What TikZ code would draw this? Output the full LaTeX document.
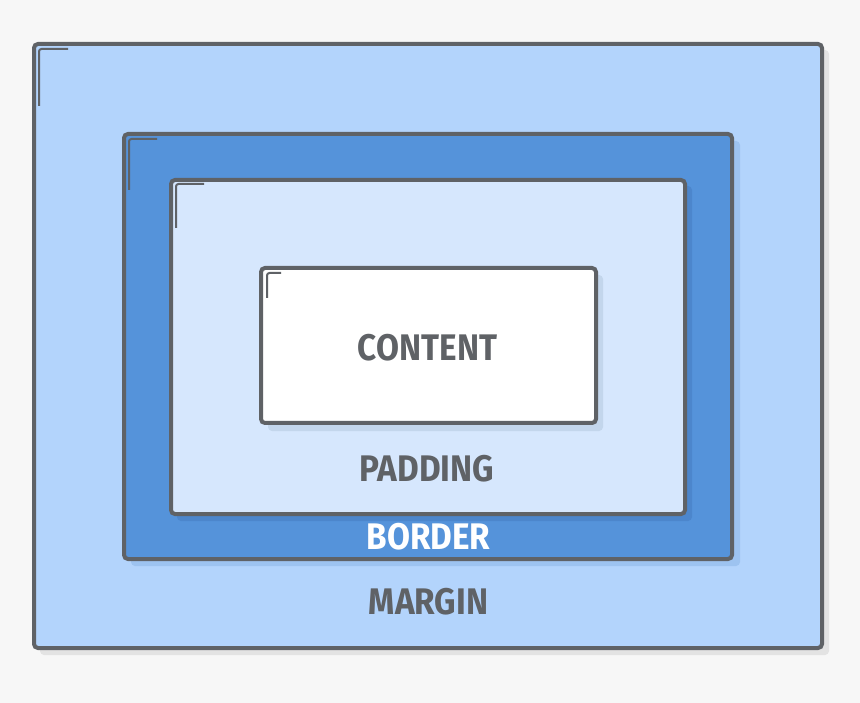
\documentclass[tikz,border=0pt]{standalone}
\usepackage{fontspec}
\setmainfont{Fira Sans}
\definecolor{bg}{HTML}{F7F7F7}
\definecolor{strokec}{HTML}{5F6266}
\definecolor{marginc}{HTML}{B3D4FC}
\definecolor{borderc}{HTML}{5593DA}
\definecolor{paddingc}{HTML}{D6E7FD}
\definecolor{txt}{HTML}{5F6266}
\definecolor{shgray}{HTML}{E3E3E3}
\definecolor{shmargin}{HTML}{9DC3F0}
\definecolor{shborder}{HTML}{4C86CC}
\definecolor{shpad}{HTML}{C3D6EC}
\tikzset{
  box/.style={draw=strokec, line width=4pt, rounded corners=4pt},
  shadowbox/.style={rounded corners=4pt},
  cornermark/.style={draw=strokec, line width=2pt, rounded corners=2.5pt},
  lbl/.style={font=\fontsize{37}{40}\selectfont\bfseries, text=txt, inner sep=0pt, anchor=center, xscale=0.9},
}
\begin{document}
\begin{tikzpicture}[x=1pt,y=-1pt]
\fill[bg] (0,0) rectangle (860,703);
\useasboundingbox (0,0) rectangle (860,703);
% margin box
\fill[shgray, shadowbox] (40,50) rectangle (829,655);
\draw[box, fill=marginc] (34,44) rectangle (822,648);
\draw[cornermark] (39,106) -- (39,49) -- (68,49);
% border box
\fill[shmargin, shadowbox] (131,141) rectangle (740,566);
\draw[box, fill=borderc] (124,134) rectangle (732,559);
\draw[cornermark] (129,190) -- (129,139) -- (157,139);
% padding box
\fill[shborder, shadowbox] (177,186) rectangle (692,521);
\draw[box, fill=paddingc] (171,180) rectangle (685,514);
\draw[cornermark] (176,228) -- (176,184) -- (204,184);
% content box
\fill[shpad, shadowbox] (268,275) rectangle (603,431);
\draw[box, fill=white] (261,268) rectangle (596,423);
\draw[cornermark] (267,298) -- (267,273) -- (281,273);
% labels
\node[lbl] (content) at (427.5,347.5) {CONTENT};
\node[lbl] (padding) at (427,468.5) {PADDING};
\node[lbl, text=white] (border) at (428.5,536.5) {BORDER};
\node[lbl] (margin) at (428.5,601.5) {MARGIN};
\end{tikzpicture}
\end{document}
